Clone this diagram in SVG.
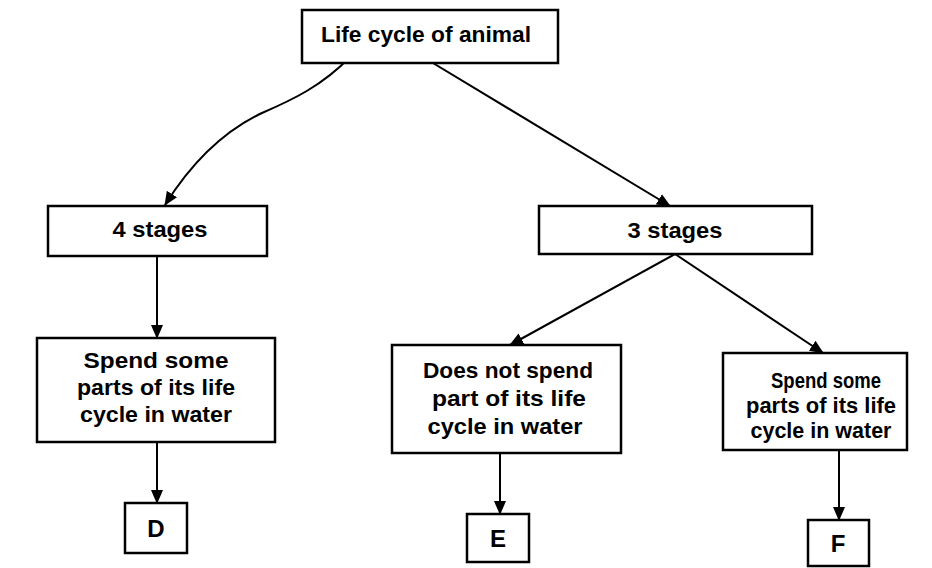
<svg xmlns="http://www.w3.org/2000/svg" width="932" height="568" viewBox="0 0 932 568">
<style>
.box{fill:#fff;stroke:#000;stroke-width:2.5}
.t{font-family:"Liberation Sans",Arial,sans-serif;font-size:22px;font-weight:bold;fill:#000;text-anchor:middle}
.l{font-family:"Liberation Sans",Arial,sans-serif;font-size:24px;font-weight:bold;fill:#000;text-anchor:middle}
.c{fill:none;stroke:#000;stroke-width:2}
</style>
<defs>
<marker id="ah" markerUnits="userSpaceOnUse" markerWidth="14" markerHeight="12" refX="13" refY="6" orient="auto">
<path d="M0,0 L14,6 L0,12 Z" fill="#000"/>
</marker>
</defs>
<g id="connectors">
<path class="c" d="M350,57 C322,86 292,100 262,113 C224,131 192,162 165,205" marker-end="url(#ah)"/>
<line class="c" x1="423" y1="57" x2="670" y2="206" marker-end="url(#ah)"/>
<line class="c" x1="157" y1="256" x2="157" y2="338" marker-end="url(#ah)"/>
<line class="c" x1="675" y1="254" x2="510" y2="345" marker-end="url(#ah)"/>
<line class="c" x1="675" y1="254" x2="823" y2="353" marker-end="url(#ah)"/>
<line class="c" x1="157" y1="442" x2="157" y2="503" marker-end="url(#ah)"/>
<line class="c" x1="500" y1="453" x2="500" y2="514" marker-end="url(#ah)"/>
<line class="c" x1="839" y1="450" x2="839" y2="520" marker-end="url(#ah)"/>
</g>
<g id="root">
<rect class="box" x="302" y="10" width="256" height="53"/>
<text class="t" x="426" y="42" textLength="210" lengthAdjust="spacingAndGlyphs">Life cycle of animal</text>
</g>
<g id="four">
<rect class="box" x="48" y="206" width="219" height="50"/>
<text class="t" x="160" y="237" textLength="95" lengthAdjust="spacingAndGlyphs">4 stages</text>
</g>
<g id="three">
<rect class="box" x="539" y="206" width="273" height="48"/>
<text class="t" x="675" y="238" textLength="95" lengthAdjust="spacingAndGlyphs">3 stages</text>
</g>
<g id="spendLeft">
<rect class="box" x="37" y="338" width="238" height="104"/>
<text class="t" x="156" y="368" textLength="145" lengthAdjust="spacingAndGlyphs">Spend some</text>
<text class="t" x="156" y="395" textLength="158" lengthAdjust="spacingAndGlyphs">parts of its life</text>
<text class="t" x="156" y="422" textLength="152" lengthAdjust="spacingAndGlyphs">cycle in water</text>
</g>
<g id="notSpend">
<rect class="box" x="392" y="345" width="229" height="108"/>
<text class="t" x="508" y="378" textLength="170" lengthAdjust="spacingAndGlyphs">Does not spend</text>
<text class="t" x="509" y="406" textLength="154" lengthAdjust="spacingAndGlyphs">part of its life</text>
<text class="t" x="505" y="434" textLength="155" lengthAdjust="spacingAndGlyphs">cycle in water</text>
</g>
<g id="spendRight">
<rect class="box" x="723" y="353" width="184" height="97"/>
<text class="t" x="826" y="388" textLength="110" lengthAdjust="spacingAndGlyphs">Spend some</text>
<text class="t" x="821" y="413" textLength="150" lengthAdjust="spacingAndGlyphs">parts of its life</text>
<text class="t" x="821" y="438" textLength="141" lengthAdjust="spacingAndGlyphs">cycle in water</text>
</g>
<g id="D">
<rect class="box" x="125" y="503" width="62" height="50"/>
<text class="l" x="156" y="537">D</text>
</g>
<g id="E">
<rect class="box" x="467" y="514" width="62" height="48"/>
<text class="l" x="498" y="547">E</text>
</g>
<g id="F">
<rect class="box" x="808" y="520" width="61" height="46"/>
<text class="l" x="838" y="552">F</text>
</g>
</svg>
